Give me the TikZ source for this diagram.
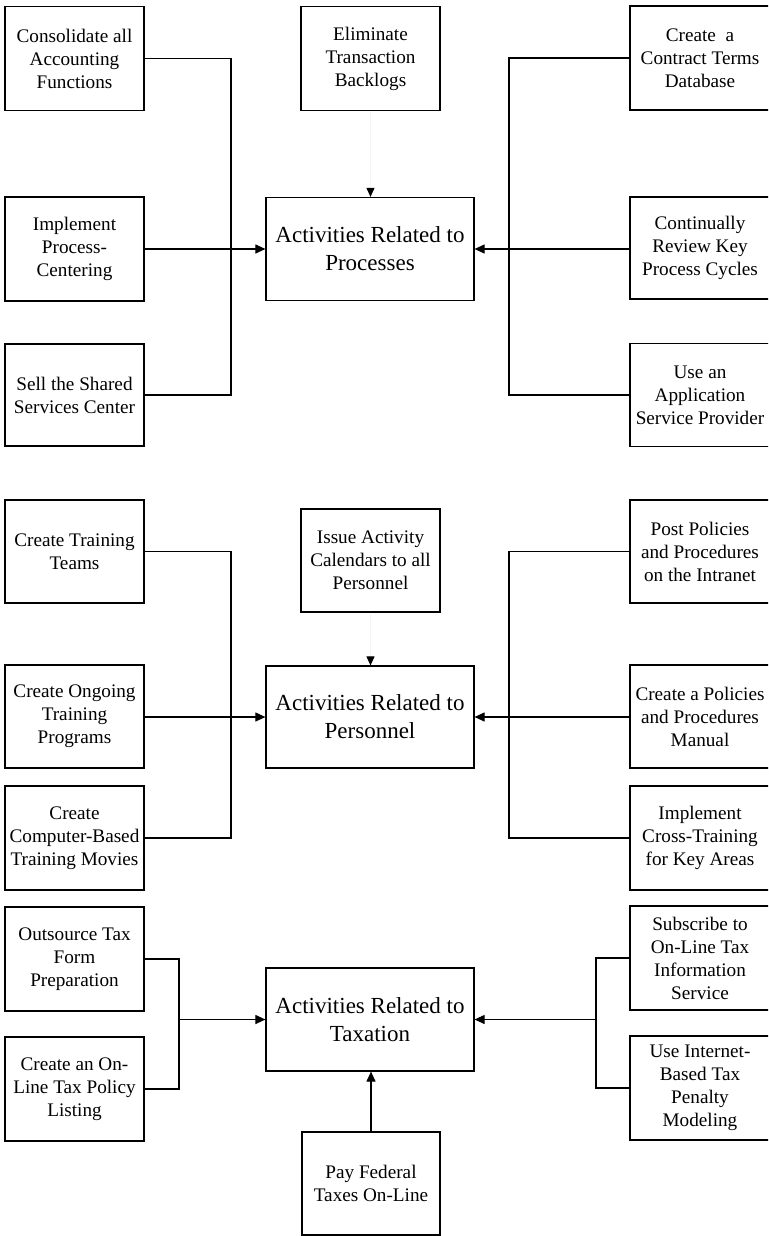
\documentclass[tikz,border=0pt]{standalone}
\usepackage{fontspec}
\setmainfont{Liberation Serif}
\usetikzlibrary{arrows.meta}
\tikzset{
  box/.style={draw=black, line width=1.2pt, rectangle, align=center, inner sep=0pt,
    minimum width=139pt, minimum height=104pt, font=\fontsize{19.2}{23}\selectfont},
  rbox/.style={box, minimum width=140pt},
  mainbox/.style={box, minimum width=208pt, minimum height=103pt, font=\fontsize{23}{28}\selectfont},
  conn/.style={draw=black, line width=1.1pt},
  arr/.style={conn, -{Triangle[length=10pt,width=9pt]}},
  faintarr/.style={draw=black!4, line width=1pt, -{Triangle[length=9pt,width=8pt,color=black]}}
}
\begin{document}
\begin{tikzpicture}[x=1pt,y=-1pt]
\useasboundingbox (0,0) rectangle (768,1236);
\clip (0,0) rectangle (768,1236);
% ---- Processes ----
\node[box] (cons) at (74.5,58.5) {Consolidate all\\Accounting\\Functions};
\node[box] (elim) at (370.5,58.5) {Eliminate\\Transaction\\Backlogs};
\node[rbox] (ctd) at (700,58) {Create~ a\\Contract Terms\\Database};
\node[box] (impl) at (74.5,249) {Implement\\Process-\\Centering};
\node[mainbox] (proc) at (370,249) {Activities Related to\\Processes};
\node[rbox, minimum height=102pt] (crk) at (700,248) {Continually\\Review Key\\Process Cycles};
\node[box, minimum height=102pt] (sell) at (74.5,395) {Sell the Shared\\Services Center};
\node[rbox, minimum height=103pt] (asp) at (700,395) {Use an\\Application\\Service Provider};
\coordinate (jl1) at (231,249);
\coordinate (jr1) at (509,249);
\draw[conn] (cons.east) -| (jl1) |- (sell.east);
\draw[arr] (impl.east) -- (proc.west);
\draw[conn] (ctd.west) -| (jr1) |- (asp.west);
\draw[arr] (crk.west |- proc.east) -- (proc.east);
\draw[faintarr] (elim.south) -- (elim.south |- proc.north);
% ---- Personnel ----
\node[box, minimum height=103pt] (teams) at (74.5,551.5) {Create Training\\Teams};
\node[box, minimum height=103pt] (issue) at (370.5,560.5) {Issue Activity\\Calendars to all\\Personnel};
\node[rbox, minimum height=103pt] (post) at (700,551.5) {Post Policies\\and Procedures\\on the Intranet};
\node[box, minimum height=103pt] (ongo) at (74.5,716.5) {Create Ongoing\\Training\\Programs};
\node[mainbox, minimum height=102pt] (pers) at (370,717) {Activities Related to\\Personnel};
\node[rbox, minimum height=103pt] (manual) at (700,716.5) {Create a Policies\\and Procedures\\Manual};
\node[box] (cbt) at (74.5,838) {Create\\Computer-Based\\Training Movies};
\node[rbox] (cross) at (700,838) {Implement\\Cross-Training\\for Key Areas};
\coordinate (jl2) at (231,717);
\coordinate (jr2) at (509,717);
\draw[conn] (teams.east) -| (jl2) |- (cbt.east);
\draw[arr] (ongo.east |- pers.west) -- (pers.west);
\draw[conn] (post.west) -| (jr2) |- (cross.west);
\draw[arr] (manual.west |- pers.east) -- (pers.east);
\draw[faintarr] (issue.south) -- (issue.south |- pers.north);
% ---- Taxation ----
\node[box] (outs) at (74.5,959) {Outsource Tax\\Form\\Preparation};
\node[rbox] (subs) at (700,958) {Subscribe to\\On-Line Tax\\Information\\Service};
\node[mainbox] (tax) at (370,1019.5) {Activities Related to\\Taxation};
\node[box] (online) at (74.5,1089) {Create an On-\\Line Tax Policy\\Listing};
\node[rbox] (usei) at (700,1088) {Use Internet-\\Based Tax\\Penalty\\Modeling};
\node[box, minimum width=138pt, minimum height=103pt] (pay) at (371,1183.5) {Pay Federal\\Taxes On-Line};
\coordinate (jl3) at (179,1019.5);
\coordinate (jr3) at (596,1019.5);
\draw[conn] (outs.east) -| (jl3) |- (online.east);
\draw[arr] (jl3) -- (tax.west);
\draw[conn] (subs.west) -| (jr3) |- (usei.west);
\draw[arr] (jr3) -- (tax.east);
\draw[arr] (pay.north) -- (pay.north |- tax.south);
\end{tikzpicture}
\end{document}
